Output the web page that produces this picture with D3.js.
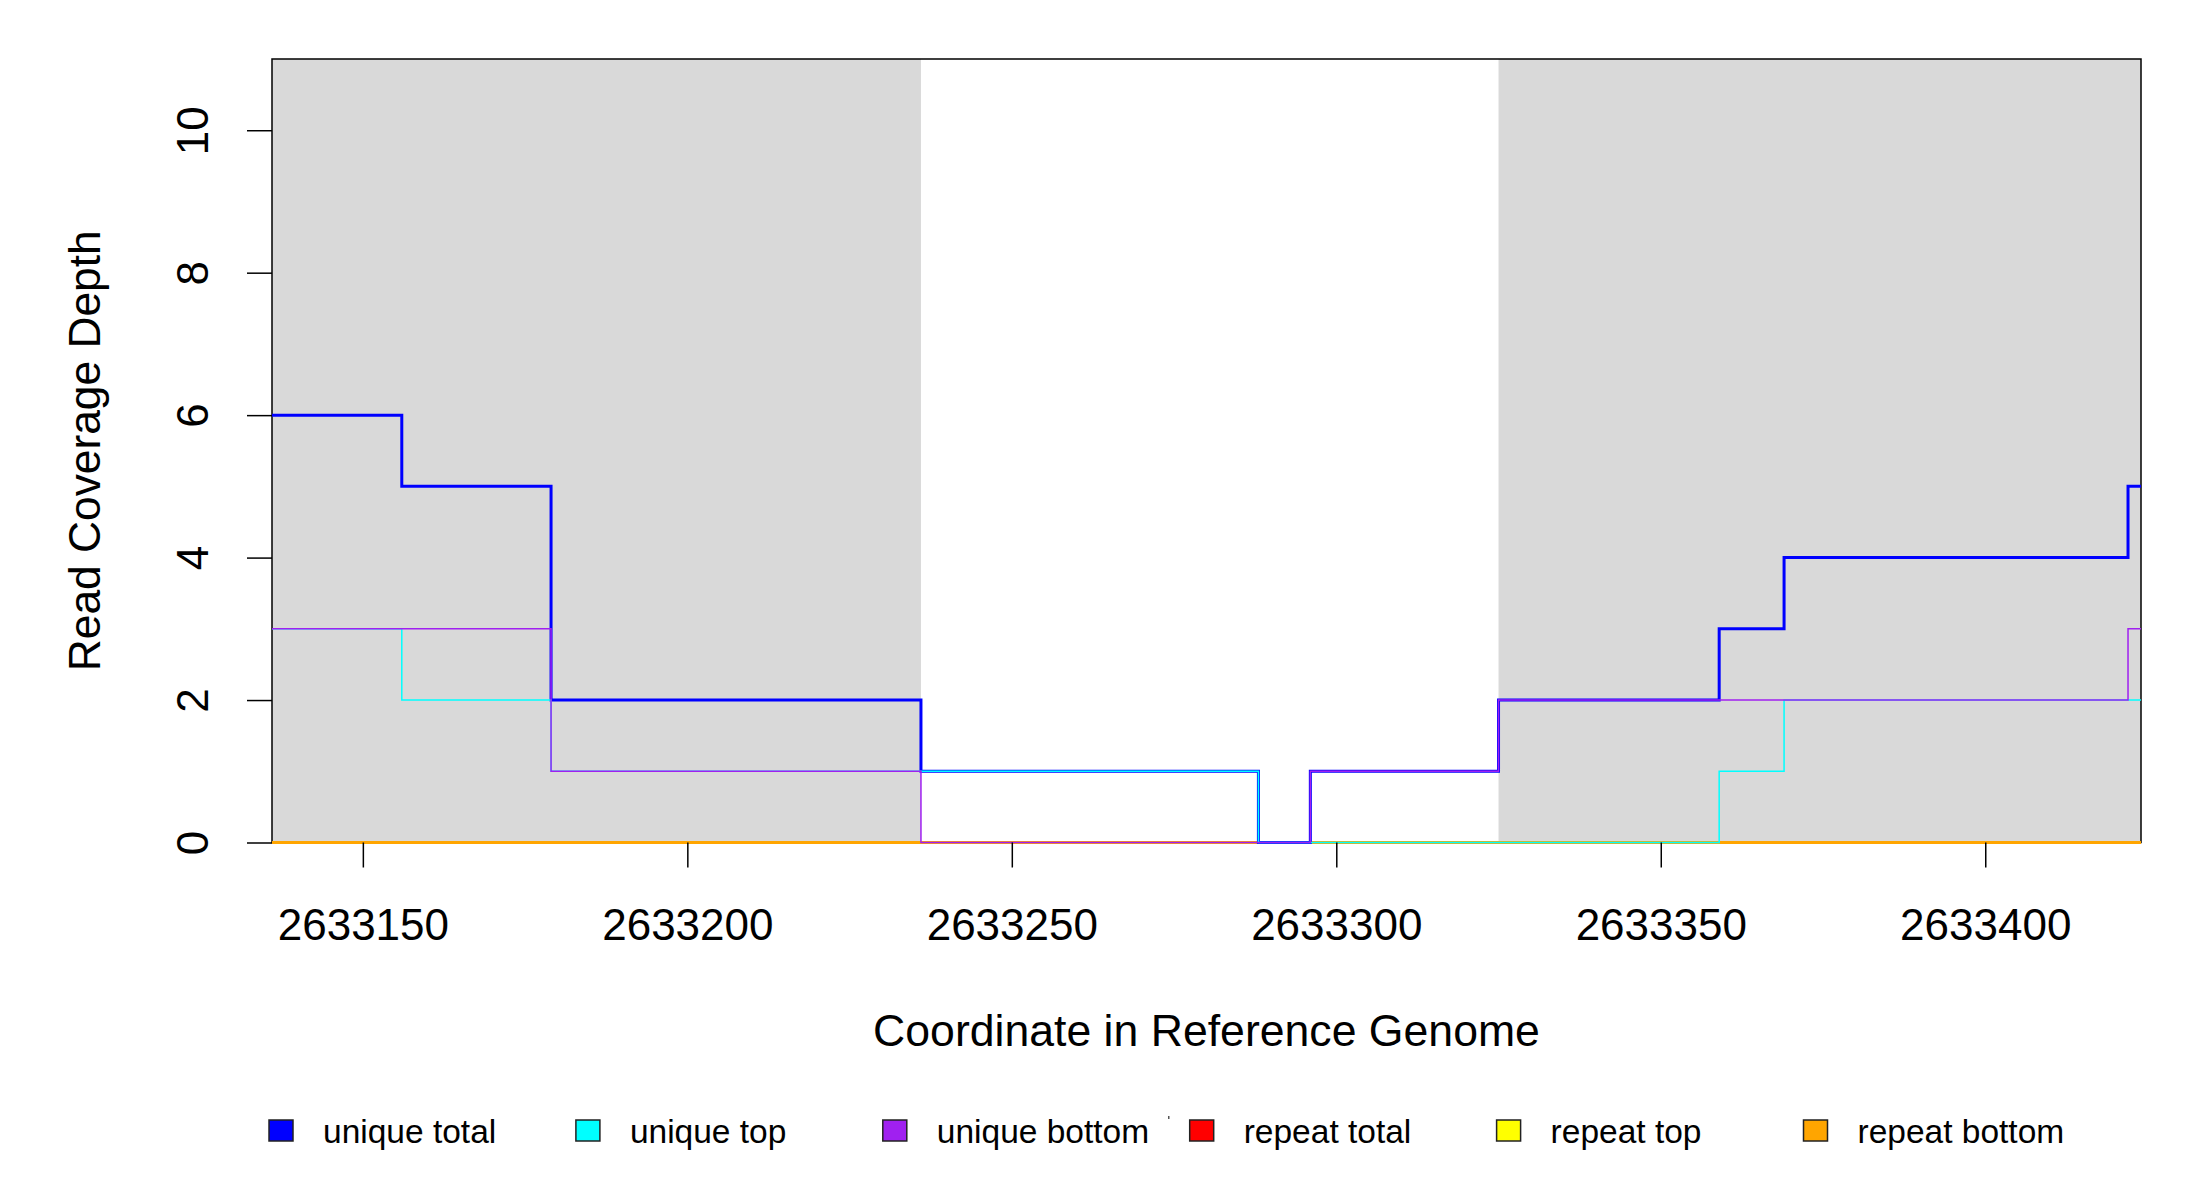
<!DOCTYPE html>
<head>
    <meta charset="utf-8">
    <script src="https://cdn.jsdelivr.net/npm/d3@7"></script>
    <style>
        body { margin: 0; background: white; }
        text { font-family: "Liberation Sans", Arial, sans-serif; fill: black; }
    </style>
</head>

<body>
<script>

    // coverage breakpoints (start of each step, last one is the end)
    var breaks = [2633136, 2633156, 2633179, 2633236, 2633288, 2633296, 2633325, 2633359, 2633369, 2633422, 2633424];

    var uniqueTotal  = [6, 5, 2, 1, 0, 1, 2, 3, 4, 5];
    var uniqueTop    = [3, 2, 1, 1, 0, 0, 0, 1, 2, 2];
    var uniqueBottom = [3, 3, 1, 0, 0, 1, 2, 2, 2, 3];
    var repeatTotal  = [0, 0, 0, 0, 0, 0, 0, 0, 0, 0];
    var repeatTop    = [0, 0, 0, 0, 0, 0, 0, 0, 0, 0];
    var repeatBottom = [0, 0, 0, 0, 0, 0, 0, 0, 0, 0];

    // shaded flanking regions
    var shaded = [[2633136, 2633236], [2633325, 2633424]];

    var xTicks = [2633150, 2633200, 2633250, 2633300, 2633350, 2633400];
    var yTicks = [0, 2, 4, 6, 8, 10];

    var legendNames  = ["unique total", "unique top", "unique bottom", "repeat total", "repeat top", "repeat bottom"];
    var legendColors = ["#0000FF", "#00FFFF", "#A020F0", "#FF0000", "#FFFF00", "#FFA500"];

    var svg = d3.select("body").append("svg")
        .attr("width", 2200)
        .attr("height", 1200);

    var x = d3.scaleLinear().domain([2633136, 2633424]).range([272, 2141]);
    var y = d3.scaleLinear().domain([0, 11]).range([842.5, 59]);

    // grey regions
    svg.selectAll("rect.shade").data(shaded).enter().append("rect")
        .attr("class", "shade")
        .attr("x", function(d) { return x(d[0]); })
        .attr("y", y(11))
        .attr("width", function(d) { return x(d[1]) - x(d[0]); })
        .attr("height", y(0) - y(11))
        .style("fill", "#D9D9D9");

    // plot box
    svg.append("rect")
        .attr("x", x(2633136))
        .attr("y", y(11))
        .attr("width", x(2633424) - x(2633136))
        .attr("height", y(0) - y(11))
        .style("fill", "none")
        .style("stroke", "black")
        .style("stroke-width", 1.5);

    var line = d3.line()
        .x(function(d) { return x(d[0]); })
        .y(function(d) { return y(d[1]); })
        .curve(d3.curveStepAfter);

    function steps(vals) {
        var pts = vals.map(function(v, i) { return [breaks[i], v]; });
        pts.push([breaks[breaks.length - 1], vals[vals.length - 1]]);
        return pts;
    }

    // drawing order: repeats underneath, unique on top
    var series = [
        {vals: repeatTotal,  color: "#FF0000", w: 3},
        {vals: repeatTop,    color: "#FFFF00", w: 3},
        {vals: repeatBottom, color: "#FFA500", w: 3},
        {vals: uniqueTotal,  color: "#0000FF", w: 3},
        {vals: uniqueTop,    color: "#00FFFF", w: 1.5},
        {vals: uniqueBottom, color: "#A020F0", w: 1.5}
    ];

    svg.selectAll("path.cov").data(series).enter().append("path")
        .attr("class", "cov")
        .attr("d", function(d) { return line(steps(d.vals)); })
        .style("fill", "none")
        .style("stroke", function(d) { return d.color; })
        .style("stroke-width", function(d) { return d.w; });

    // x axis
    var xAxis = svg.append("g")
        .attr("transform", "translate(0," + y(0) + ")")
        .call(d3.axisBottom(x).tickValues(xTicks).tickSize(25).tickPadding(0).tickFormat(d3.format("d")));
    xAxis.select(".domain").remove();
    xAxis.selectAll("line").style("stroke", "black").style("stroke-width", 1.5);
    xAxis.selectAll("text")
        .attr("y", 940 - y(0))
        .attr("dy", null)
        .style("font-size", "44px")
        .style("font-family", "'Liberation Sans', Arial, sans-serif");

    // y axis
    var yAxis = svg.append("g")
        .attr("transform", "translate(" + x(2633136) + ",0)")
        .call(d3.axisLeft(y).tickValues(yTicks).tickSize(25).tickFormat(d3.format("d")));
    yAxis.select(".domain").remove();
    yAxis.selectAll("line").style("stroke", "black").style("stroke-width", 1.5);
    yAxis.selectAll("text")
        .attr("x", null)
        .attr("dy", null)
        .attr("transform", "translate(" + (208 - x(2633136)) + ",0) rotate(-90)")
        .style("text-anchor", "middle")
        .style("font-size", "44px")
        .style("font-family", "'Liberation Sans', Arial, sans-serif");

    // axis titles
    svg.append("text")
        .attr("x", (x(2633136) + x(2633424)) / 2)
        .attr("y", 1046)
        .style("text-anchor", "middle")
        .style("font-size", "44.6px")
        .text("Coordinate in Reference Genome");

    svg.append("text")
        .attr("transform", "translate(100," + (y(0) + y(11)) / 2 + ") rotate(-90)")
        .style("text-anchor", "middle")
        .style("font-size", "44.3px")
        .text("Read Coverage Depth");

    // legend
    var leg = svg.selectAll("g.leg").data(legendNames).enter().append("g")
        .attr("class", "leg")
        .attr("transform", function(d, i) { return "translate(" + (269 + i * 306.9) + ",1130.5)"; });

    leg.append("rect")
        .attr("x", 0)
        .attr("y", -10.5)
        .attr("width", 24)
        .attr("height", 21)
        .style("fill", function(d, i) { return legendColors[i]; })
        .style("stroke", "#222")
        .style("stroke-width", 1.5);

    leg.append("text")
        .attr("x", 54)
        .attr("y", 12)
        .style("font-size", "33.5px")
        .text(function(d) { return d; });

    // small stray mark in the legend row
    svg.append("rect")
        .attr("x", 1168)
        .attr("y", 1116)
        .attr("width", 1.5)
        .attr("height", 3)
        .style("fill", "#555");

</script>
</body>
